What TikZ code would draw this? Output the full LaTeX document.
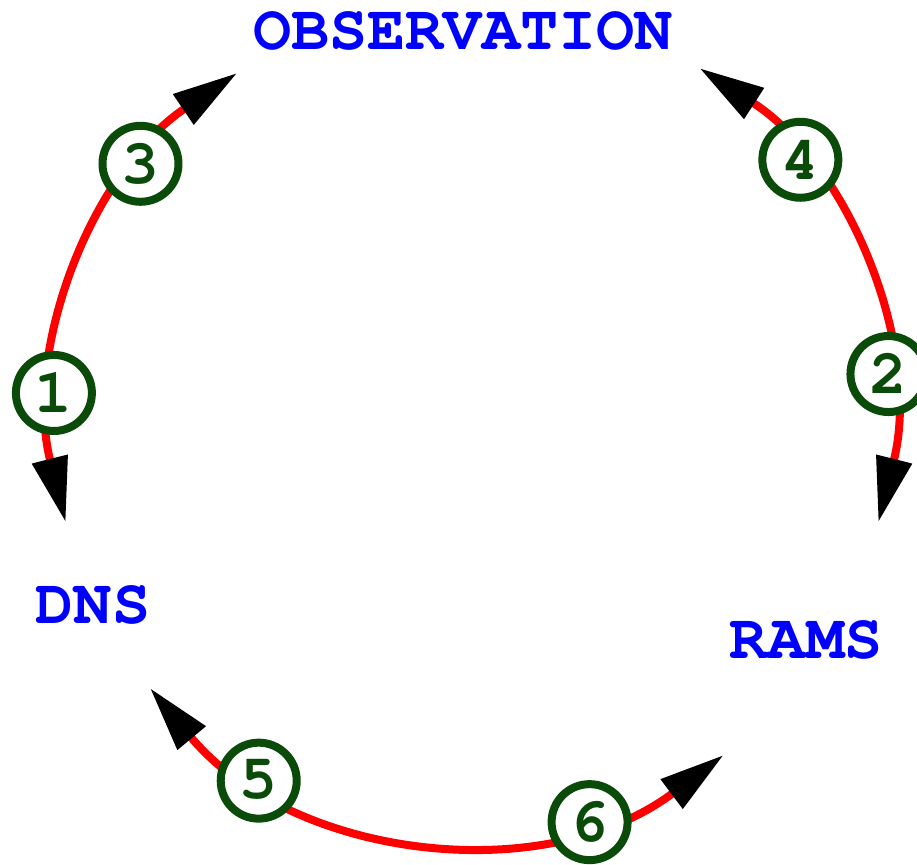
\documentclass[tikz,border=0pt]{standalone}
\usepackage[T1]{fontenc}
\usetikzlibrary{arrows.meta}
\definecolor{lblblue}{RGB}{0,0,255}
\definecolor{numgreen}{RGB}{10,75,10}
\definecolor{arcred}{RGB}{255,0,0}
\newcommand{\courb}{\fontencoding{T1}\fontfamily{pcr}\fontseries{b}\fontshape{n}}
\begin{document}
\begin{tikzpicture}[x=0.5pt,y=0.5pt,
  tip/.tip={Triangle[length=32.5pt,width=17.5pt,color=black]},
  arcline/.style={draw=arcred,line width=4pt,{tip}-{tip}},
  numc/.style={circle,draw=numgreen,fill=white,line width=4pt,minimum size=38pt,inner sep=0pt,
    text=numgreen,font=\courb\fontsize{31.5}{36}\selectfont},
  lbl/.style={anchor=base,text=lblblue,inner sep=0pt,font=\courb\fontsize{31.8}{36}\selectfont}]
\useasboundingbox (0,0) rectangle (917,-864);
\coordinate (c) at (472,-420);
% labels
\node[lbl] (obs) at (463,-49) {OBSERVATION};
\node[lbl] (dns) at (93,-623) {DNS};
\node[lbl] (rams) at (806,-658) {RAMS};
% arcs
\coordinate (aS) at ([shift={(124.1:419)}]c);
\coordinate (bS) at ([shift={(57.1:419)}]c);
\coordinate (cS) at ([shift={(219.8:419)}]c);
\draw[arcline] (aS) arc[start angle=124.1,end angle=194.1,radius=419];
\draw[arcline] (bS) arc[start angle=57.1,end angle=-14.1,radius=419];
\draw[arcline] (cS) arc[start angle=219.8,end angle=306.9,radius=419];
% numbered circles
\node[numc] (n1) at ([shift={(176.3:419)}]c) {1};
\node[numc] (n2) at ([shift={(6.3:419)}]c) {2};
\node[numc] (n3) at ([shift={(142.3:419)}]c) {3};
\node[numc] (n4) at ([shift={(38.4:419)}]c) {4};
\node[numc] (n5) at ([shift={(239.4:419)}]c) {5};
\node[numc] (n6) at ([shift={(286.3:419)}]c) {6};
\end{tikzpicture}
\end{document}
